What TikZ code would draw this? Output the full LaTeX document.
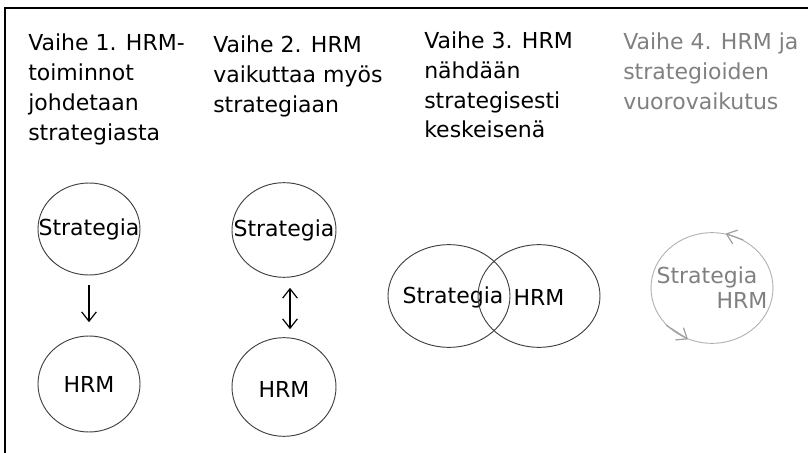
\documentclass[tikz,border=0pt]{standalone}
\usepackage{fontspec}
\setmainfont{DejaVu Sans}
\usetikzlibrary{shapes.geometric,arrows.meta}

\definecolor{fadegray}{RGB}{128,128,128}
\definecolor{ringgray}{RGB}{178,178,178}
\definecolor{arrowgray}{RGB}{160,160,160}

\tikzset{
	heading/.style={anchor=base west, align=left, inner sep=0pt, font=\fontsize{16.5}{22.5}\selectfont},
	disc/.style={ellipse, draw=black!75, line width=0.7pt, inner sep=0pt},
	every label/.style={inner sep=0pt, font=\fontsize{16.5}{20}\selectfont},
	label4/.style={anchor=base, inner sep=0pt, text=fadegray, font=\fontsize{16.5}{20}\selectfont},
}

\begin{document}
\begin{tikzpicture}[x=0.75pt,y=-0.75pt,>={Straight Barb[length=7pt,width=11pt]}]
	\useasboundingbox (0,0) rectangle (808,453);
	\draw[line width=1.1pt] (5,453) -- (5,8) -- (808,8);
	
	% headings
	\node[heading] (vaihe1) at (28,141) {Vaihe 1. HRM-\\toiminnot\\johdetaan\\strategiasta};
	\node[heading] (vaihe2) at (213,113) {Vaihe 2. HRM\\vaikuttaa myös\\strategiaan};
	\node[heading] (vaihe3) at (424,138) {Vaihe 3. HRM\\nähdään\\strategisesti\\keskeisenä};
	\node[heading, text=fadegray] (vaihe4) at (623,110) {Vaihe 4. HRM ja\\strategioiden\\vuorovaikutus};
	
	% vaihe 1
	\node[disc, minimum width=76.5pt, minimum height=69pt, label=center:Strategia] (strat1) at (89,229) {};
	\node[disc, minimum width=76.5pt, minimum height=72pt, label=center:HRM] (hrm1) at (89,384) {};
	\draw[->, line width=0.9pt, shorten <=7.5pt, shorten >=10pt] (strat1) -- (hrm1);
	% vaihe 2
	\node[disc, minimum width=78pt, minimum height=71pt, label=center:Strategia] (strat2) at (284,230) {};
	\node[disc, minimum width=78pt, minimum height=74pt, label={[yshift=-2pt]center:HRM}] (hrm2) at (284,387) {};
	\draw[<->, line width=0.9pt, shorten <=7.5pt, shorten >=6pt] ([xshift=4.5pt]strat2.south) -- ([xshift=4.5pt]hrm2.north);
	% vaihe 3
	\node[disc, minimum width=91.5pt, minimum height=77pt, label={[xshift=3pt,yshift=-1pt]center:Strategia}] (strat3) at (449,296) {};
	\node[disc, minimum width=91.5pt, minimum height=77pt, label={[yshift=-1pt]center:HRM}] (hrm3) at (539,296) {};
	% vaihe 4
	\node[ellipse, draw=ringgray, line width=0.7pt, minimum width=91.5pt, minimum height=83pt] (ring4) at (712,288) {};
	\node[label4] (strat4) at (707,283) {Strategia};
	\node[label4] (hrm4) at (742,308) {HRM};
	\draw[->, arrowgray, line width=0.9pt] (ring4.57) -- (ring4.76);
	\draw[->, arrowgray, line width=0.9pt] (ring4.219) -- (ring4.245);
\end{tikzpicture}
\end{document}
